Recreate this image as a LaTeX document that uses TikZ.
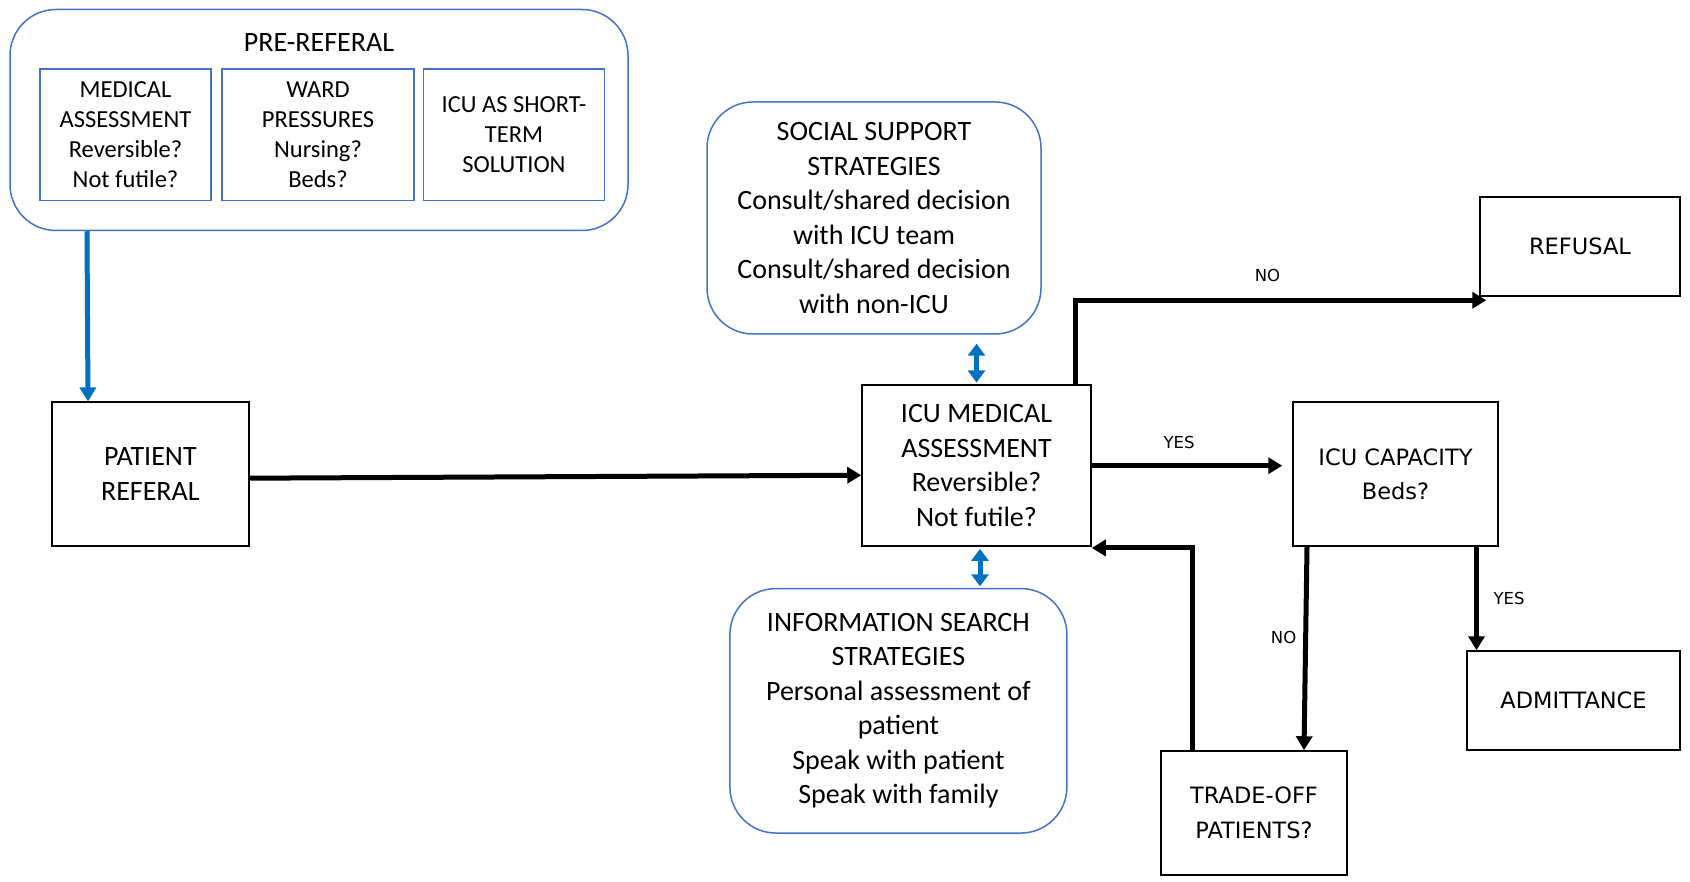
\documentclass[tikz,border=0pt]{standalone}
\usepackage{fontspec}
\setmainfont{Carlito}
\newfontfamily\dvs{DejaVu Sans}
\usetikzlibrary{arrows.meta,calc}
\definecolor{boxblue}{HTML}{4472C4}
\definecolor{arrblue}{HTML}{0070C0}
\begin{document}
\begin{tikzpicture}[x=1pt,y=-1pt,
 bbox/.style={draw=black, line width=1.5pt, align=center, inner sep=0pt, font=\fontsize{28}{34.5}\selectfont},
 rbox/.style={bbox, font=\dvs\fontsize{22.5}{34.5}\selectfont},
 ubox/.style={draw=boxblue, line width=1.5pt, align=center, inner sep=0pt, rounded corners=46pt, font=\fontsize{28}{34.5}\selectfont},
 pbox/.style={draw=boxblue, line width=1.5pt, align=center, inner sep=0pt, font=\fontsize{24.5}{30}\selectfont},
 arr/.style={draw=black, line width=5pt, -{Triangle[length=14pt,width=16pt]}},
 barr/.style={draw=arrblue, line width=5pt, -{Triangle[length=14pt,width=16pt]}},
 bdarr/.style={draw=arrblue, line width=5pt, {Triangle[length=12pt,width=17pt]}-{Triangle[length=12pt,width=17pt]}},
 lbl/.style={font=\dvs\fontsize{16.5}{20}\selectfont, inner sep=0pt}
]
\useasboundingbox (0,0) rectangle (1690,882);
\fill[white] (0,0) rectangle (1690,882);

% pre-referral group
\node[ubox, minimum width=618pt, minimum height=221pt] (pre) at (319,120) {};
\node[font=\fontsize{28}{34.5}\selectfont, inner sep=0pt] (pretitle) at (319,43) {PRE-REFERAL};
\node[pbox, minimum width=171pt, minimum height=131.5pt] (m1) at (125.5,134.8) {MEDICAL\\ASSESSMENT\\Reversible?\\Not futile?};
\node[pbox, minimum width=192pt, minimum height=131.5pt] (m2) at (318,134.8) {WARD\\PRESSURES\\Nursing?\\Beds?};
\node[pbox, minimum width=181pt, minimum height=131.5pt] (m3) at (514,134.8) {ICU AS SHORT-\\TERM\\SOLUTION};

% main boxes
\node[bbox, minimum width=197pt, minimum height=144pt] (patient) at (150.4,474.2) {PATIENT\\REFERAL};
\node[bbox, minimum width=229pt, minimum height=161pt] (icumed) at (976.5,465.7) {ICU MEDICAL\\ASSESSMENT\\Reversible?\\Not futile?};
\node[ubox, minimum width=334pt, minimum height=232pt] (social) at (874,218) {SOCIAL SUPPORT\\STRATEGIES\\Consult/shared decision\\with ICU team\\Consult/shared decision\\with non-ICU};
\node[ubox, minimum width=337pt, minimum height=244.5pt] (info) at (898.4,710.8) {INFORMATION SEARCH\\STRATEGIES\\Personal assessment of\\patient\\Speak with patient\\Speak with family};
\node[rbox, minimum width=200pt, minimum height=99pt] (refusal) at (1580,246.5) {REFUSAL};
\node[rbox, minimum width=205pt, minimum height=144pt] (capacity) at (1395.5,474.2) {ICU CAPACITY\\Beds?};
\node[rbox, minimum width=186pt, minimum height=124pt] (tradeoff) at (1254,813) {TRADE-OFF\\PATIENTS?};
\node[rbox, minimum width=213pt, minimum height=99pt] (admit) at (1573.5,700.5) {ADMITTANCE};

% connectors
\draw[barr] ([xshift=-232pt]pre.south) -- ([xshift=-62.4pt]patient.north);
\draw[arr] ([yshift=-4pt]patient.east) -- ([yshift=-9.5pt]icumed.west);
\draw[arr] ([xshift=99pt]icumed.north) |- ([xshift=7pt,yshift=-3.5pt]refusal.south west);
\draw[arr, shorten >=10pt] (icumed.east) -- (icumed.east -| capacity.west);
\draw[arr] ([xshift=-88.5pt]capacity.south) -- ([xshift=50pt]tradeoff.north);
\coordinate (cy) at ([xshift=81pt]capacity.south);
\draw[arr] (cy) -- (cy |- admit.north);
\draw[arr] ([xshift=-62pt]tradeoff.north) |- ([yshift=-1pt]icumed.south east);
\draw[bdarr, shorten <=2pt, shorten >=9pt] (icumed.north) -- (icumed.north |- social.south);
\coordinate (bd) at ([xshift=3.5pt]icumed.south);
\draw[bdarr, shorten <=2pt, shorten >=1.5pt] (bd) -- (bd |- info.north);

% labels
\node[lbl] (lno1) at (1267.5,275) {NO};
\node[lbl] (lyes1) at (1179,442) {YES};
\node[lbl] (lno2) at (1283.6,637) {NO};
\node[lbl] (lyes2) at (1509,598) {YES};
\end{tikzpicture}
\end{document}
